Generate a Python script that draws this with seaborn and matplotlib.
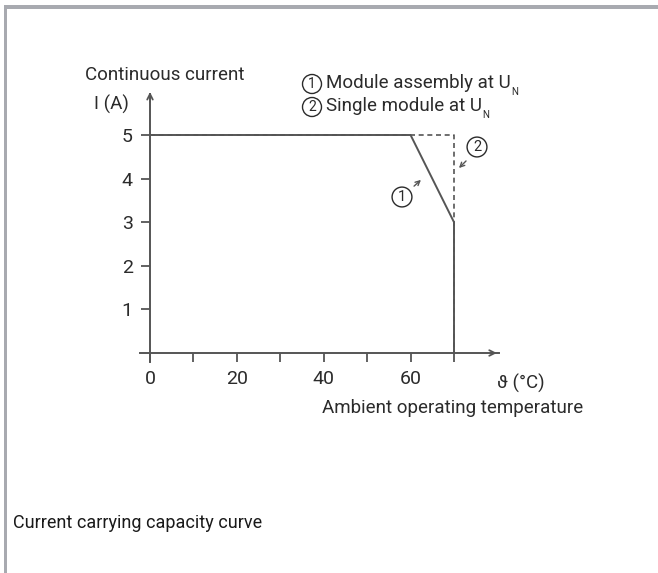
import matplotlib
matplotlib.use("Agg")
import matplotlib.pyplot as plt
import matplotlib.patches as mpatches
import seaborn as sns
import pandas as pd

# ---- data ----
temp_assembly = [0, 60, 70, 70]
current_assembly = [5, 5, 3, 0]
temp_single = [0, 70, 70]
current_single = [5, 5, 0]
x_ticks = [0, 10, 20, 30, 40, 50, 60, 70]
x_tick_labels = ["0", "", "20", "", "40", "", "60", ""]
y_ticks = [1, 2, 3, 4, 5]
y_tick_labels = ["1", "2", "3", "4", "5"]

sns.set_theme(style="white")
FONT = ["Roboto", "DejaVu Sans"]
plt.rcParams['font.family'] = FONT

LC = "#555555"
TC = "#2b2b2b"

W, H = 658, 573
fig = plt.figure(figsize=(W / 100, H / 100), dpi=100)
fig.patch.set_facecolor("white")

# axes placement: x=0 -> 150px, x=70 -> 454px ; y=0 -> 353px (from top), y=5 -> 135px
xpx = (454 - 150) / 70.0
ypx = (353 - 135) / 5.0
xmin, xmax = -3, 84
ymin, ymax = -0.5, 6.3
left = 150 + xmin * xpx
bottom = (H - 353) + ymin * ypx
ax = fig.add_axes([left / W, bottom / H, (xmax - xmin) * xpx / W, (ymax - ymin) * ypx / H])
ax.set_xlim(xmin, xmax)
ax.set_ylim(ymin, ymax)
ax.set_facecolor("none")

df_a = pd.DataFrame({"t": temp_assembly, "i": current_assembly})
df_s = pd.DataFrame({"t": temp_single, "i": current_single})
sns.lineplot(data=df_s, x="t", y="i", sort=False, estimator=None, ax=ax, color=LC, lw=1.2,
             linestyle=(0, (3, 2.2)), zorder=2)
sns.lineplot(data=df_a, x="t", y="i", sort=False, estimator=None, ax=ax, color=LC, lw=1.4,
             zorder=3)

for s in ["top", "right"]:
    ax.spines[s].set_visible(False)
for s in ["left", "bottom"]:
    ax.spines[s].set_visible(True)
    ax.spines[s].set_color(LC)
    ax.spines[s].set_linewidth(1.4)
    ax.spines[s].set_position(("data", 0))
ax.spines["left"].set_bounds(-0.2, 5.95)
ax.spines["bottom"].set_bounds(-2.3, 80.3)

ax.set_xticks(x_ticks)
ax.set_xticklabels(x_tick_labels)
ax.set_yticks(y_ticks)
ax.set_yticklabels(y_tick_labels)
ax.tick_params(axis="both", direction="out", length=6.5, width=1.3, color=LC,
               labelsize=14, labelcolor=TC, bottom=True, left=True)
ax.tick_params(axis="x", pad=6)
ax.tick_params(axis="y", pad=6)
ax.set_xlabel("")
ax.set_ylabel("")
ax.grid(False)

# arrow heads of axes
ax.annotate("", xy=(80.5, 0), xytext=(78, 0),
            arrowprops=dict(arrowstyle="->", color=LC, lw=1.3, mutation_scale=10))
ax.annotate("", xy=(0, 6.05), xytext=(0, 5.7),
            arrowprops=dict(arrowstyle="->", color=LC, lw=1.3, mutation_scale=10))


def px2d(px, py):
    return ((px - 150) / xpx, (353 - py) / ypx)


def circled(px, py, digit, size=10, pad=0.18):
    ax.text(*px2d(px, py), digit, fontsize=size, color=TC, ha="center", va="center",
            bbox=dict(boxstyle=f"circle,pad={pad}", facecolor="none", edgecolor=TC, lw=1.0))


fs = 13.5
ax.text(*px2d(85, 75), "Continuous current", fontsize=fs, color=TC, ha="left", va="center")
ax.text(*px2d(94, 104), "I (A)", fontsize=fs, color=TC, ha="left", va="center")
ax.text(*px2d(497, 383), "ϑ (°C)", fontsize=fs, color=TC, ha="left", va="center")
ax.text(*px2d(322, 408), "Ambient operating temperature", fontsize=fs, color=TC,
        ha="left", va="center")

# legend-like notes
circled(312, 84, "1")
circled(312, 107, "2")
t1 = ax.text(*px2d(326, 83), "Module assembly at U", fontsize=fs, color=TC,
             ha="left", va="center")
t2 = ax.text(*px2d(326, 106), "Single module at U", fontsize=fs, color=TC,
             ha="left", va="center")
for t in (t1, t2):
    ax.annotate("N", xy=(1, 0.1), xycoords=t, xytext=(0.5, -1), textcoords="offset points",
                fontsize=7, color=TC, ha="left", va="center")

# curve markers
circled(402, 197, "1", 10.5, 0.2)
ax.annotate("", xy=px2d(423, 178), xytext=px2d(412, 188),
            arrowprops=dict(arrowstyle="->", color=LC, lw=1.0, mutation_scale=8))
circled(477, 147, "2", 10.5, 0.2)
ax.annotate("", xy=px2d(457, 170), xytext=px2d(468, 159),
            arrowprops=dict(arrowstyle="->", color=LC, lw=1.0, mutation_scale=8))

# caption
fig.text(13 / W, 1 - 523 / H, "Current carrying capacity curve", fontsize=13,
         color="#1a1a1a", ha="left", va="center")

# frame (top and left gray bars)
BC = "#a8aab0"
fig.add_artist(mpatches.Rectangle((4 / W, 1 - 9 / H), 1, 4 / H, transform=fig.transFigure,
                                  facecolor=BC, edgecolor="none"))
fig.add_artist(mpatches.Rectangle((4 / W, 0), 3 / W, 1 - 5 / H, transform=fig.transFigure,
                                  facecolor=BC, edgecolor="none"))

fig.savefig("out.png", dpi=100, facecolor="white")
